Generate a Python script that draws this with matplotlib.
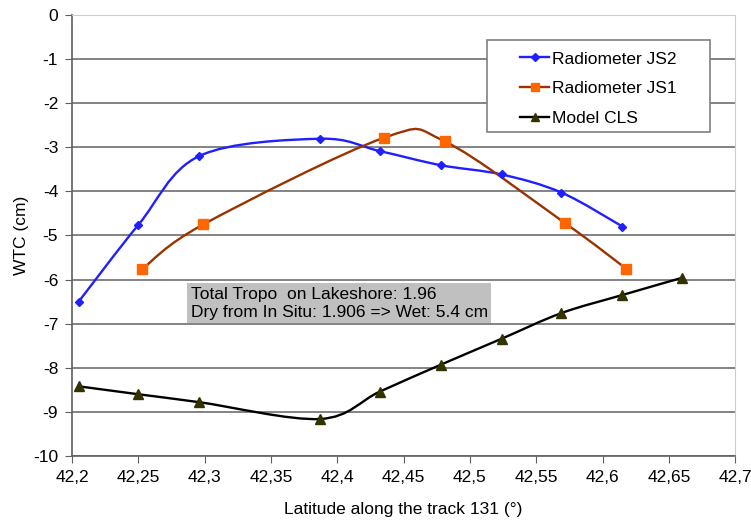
import numpy as np
import matplotlib
matplotlib.use('Agg')
import matplotlib.pyplot as plt
from matplotlib.path import Path
from matplotlib.patches import PathPatch, Rectangle
from matplotlib.lines import Line2D
from matplotlib.ticker import FuncFormatter, MultipleLocator

plt.rcParams['font.family'] = ['Liberation Sans', 'DejaVu Sans']

# latitude of each measurement point
lat_js2 = [42.205, 42.250, 42.296, 42.387, 42.432, 42.478, 42.524, 42.569, 42.615]
wtc_js2 = [-6.50, -4.76, -3.20, -2.81, -3.09, -3.41, -3.62, -4.03, -4.80]

lat_js1 = [42.253, 42.299, 42.435, 42.481, 42.572, 42.618]
wtc_js1 = [-5.76, -4.75, -2.79, -2.87, -4.73, -5.76]

lat_cls = [42.205, 42.250, 42.296, 42.387, 42.432, 42.478, 42.524, 42.569, 42.615, 42.660]
wtc_cls = [-8.42, -8.60, -8.78, -9.16, -8.54, -7.93, -7.34, -6.76, -6.35, -5.96]

note = "Total Tropo  on Lakeshore: 1.96\nDry from In Situ: 1.906 => Wet: 5.4 cm"

FS = 12.5


# excel style smoothed line, drawn as cubic bezier segments
def smooth_path(x, y):
    pts = np.column_stack([x, y])
    n = len(pts)
    verts = [pts[0]]
    codes = [Path.MOVETO]
    for i in range(n - 1):
        p0 = pts[max(i - 1, 0)]
        p1 = pts[i]
        p2 = pts[i + 1]
        p3 = pts[min(i + 2, n - 1)]
        verts += [p1 + (p2 - p0) / 6, p2 - (p3 - p1) / 6, p2]
        codes += [Path.CURVE4] * 3
    return Path(verts, codes)


fig = plt.figure(figsize=(7.51, 5.26), dpi=100)
ax = fig.add_axes([0.096, 0.133, 0.883, 0.839])

series = [
    (lat_js2, wtc_js2, '#1f1fff', 'D', '#1f1fff', 4.5, 'Radiometer JS2'),
    (lat_js1, wtc_js1, '#993300', 's', '#ff6600', 7, 'Radiometer JS1'),
    (lat_cls, wtc_cls, '#000000', '^', '#333300', 6.5, 'Model CLS'),
]
handles = []
for x, y, lc, mk, mc, ms, name in series:
    ax.add_patch(PathPatch(smooth_path(x, y), facecolor='none', edgecolor=lc,
                           lw=1.7, zorder=3))
    ax.plot(x, y, ls='none', marker=mk, ms=ms, color=mc, mec=mc, zorder=4)
    handles.append(Line2D([], [], color=lc, lw=1.7, marker=mk, ms=ms * 0.9,
                          mfc=mc, mec=mc, label=name))

ax.set_xlim(42.2, 42.7)
ax.set_ylim(-10, 0)
ax.xaxis.set_major_locator(MultipleLocator(0.05))
ax.yaxis.set_major_locator(MultipleLocator(1))
ax.xaxis.set_major_formatter(FuncFormatter(lambda v, p: ('%.2f' % v).rstrip('0').replace('.', ',')))
ax.yaxis.set_major_formatter(FuncFormatter(lambda v, p: '%d' % round(v)))
ax.tick_params(labelsize=FS, direction='out', length=5, color='#606060', pad=5)

ax.grid(axis='y', color='#7a7a7a', lw=1.3, zorder=1)
ax.set_axisbelow(True)
for s in ['top', 'right']:
    ax.spines[s].set_color('#cccccc')
for s in ['left', 'bottom']:
    ax.spines[s].set_color('#606060')
    ax.spines[s].set_linewidth(1.2)

ax.set_xlabel('Latitude along the track 131 (°)', fontsize=FS, labelpad=12)
ax.set_ylabel('WTC (cm)', fontsize=FS, labelpad=3)

ax.text(42.2895, -6.54, note, fontsize=FS, va='center', ha='left', zorder=5,
        linespacing=1.25,
        bbox=dict(boxstyle='square,pad=0.2', fc='#c0c0c0', ec='none'))

# legend frame drawn separately (wide side margins like the original)
ax.add_patch(Rectangle((0.625, 0.735), 0.337, 0.208, transform=ax.transAxes,
                       fc='white', ec='#808080', lw=1.2, zorder=5))
leg = ax.legend(handles=handles, loc='center', bbox_to_anchor=(0.7935, 0.832),
                fontsize=FS, frameon=False, handlelength=1.7,
                handletextpad=0.15, borderpad=0.3, labelspacing=0.85)
leg.set_zorder(6)

fig.savefig('out.png', dpi=100)
